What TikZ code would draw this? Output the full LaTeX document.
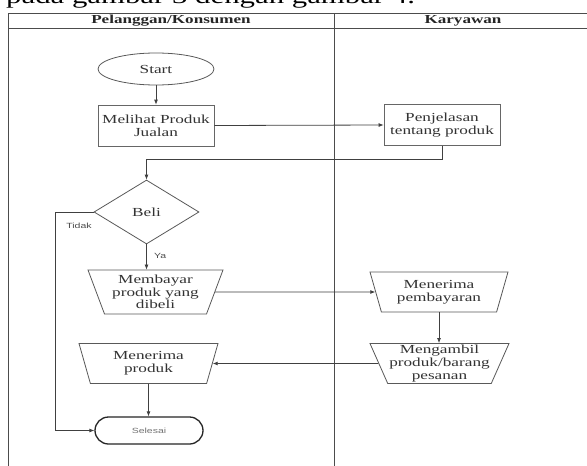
\documentclass[tikz,border=0pt]{standalone}
\usepackage{fontspec}
\setmainfont{Liberation Serif}
\newfontfamily\wideserif[FakeStretch=1.4]{Liberation Serif}
\newfontfamily\widesans[FakeStretch=1.4]{Liberation Sans}
\usetikzlibrary{shapes.geometric,arrows.meta}

\begin{document}
\begin{tikzpicture}[x=1pt,y=-1pt,
  frame/.style={draw=black!70, line width=0.9pt},
  link/.style={draw=black!75, line width=0.8pt},
  arrow/.style={link, -{Latex[length=5pt,width=4pt]}},
  boxtext/.style={font=\wideserif\fontsize{12.3}{12.6}\selectfont, text=black!80, align=center},
  headtext/.style={font=\wideserif\bfseries\fontsize{12.2}{12.5}\selectfont, text=black!85},
  smalltext/.style={font=\widesans\fontsize{7.5}{8}\selectfont, text=black!70},
  procbox/.style={boxtext, rectangle, draw=black!60, line width=0.8pt, fill=white,
    minimum width=116pt, minimum height=41pt, inner sep=0pt},
  manualop/.style={boxtext, trapezium, shape border rotate=180, trapezium stretches body=true,
    trapezium angle=64, draw=black!65, line width=0.8pt, fill=white, inner sep=0pt,
    minimum width=138pt, minimum height=40pt},
  startend/.style={boxtext, ellipse, draw=black!65, line width=0.8pt, fill=white,
    minimum width=116pt, minimum height=32pt, inner sep=0pt},
  endcap/.style={smalltext, rectangle, rounded corners=13.5pt, draw=black!85, line width=1.3pt,
    fill=white, minimum width=108pt, minimum height=27pt, inner sep=0pt, text=black!55},
  decision/.style={boxtext, diamond, aspect=1.64, draw=black!65, line width=0.8pt, fill=white,
    minimum width=105pt, minimum height=64pt, inner sep=0pt}
]
\useasboundingbox (0,0) rectangle (587,466);
\clip (0,0) rectangle (587,466);
\fill[white] (0,0) rectangle (587,466);

% running text of the page, cut by the top edge
\node[anchor=south west, inner sep=0pt, font=\wideserif\fontsize{22}{24}\selectfont, text=black]
  (pagetext) at (6,8) {pada gambar 3 dengan gambar 4.};

% swimlane frame
\draw[frame] (8,13) -- (587,13);
\draw[frame] (8,28) -- (587,28);
\draw[frame] (8,13) -- (8,466);
\draw[frame] (334,13) -- (334,466);
\node[headtext] (lane1) at (171,20.5) {Pelanggan/Konsumen};
\node[headtext] (lane2) at (463,20.5) {Karyawan};

% flow elements
\node[startend] (start) at (156,69) {Start};
\node[procbox] (lihat) at (156,125.5) {Melihat Produk\\Jualan};
\node[procbox] (jelas) at (442,125) {Penjelasan\\tentang produk};
\node[decision] (beli) at (146.5,212) {Beli};
\node[manualop, minimum height=44pt, minimum width=135pt] (bayar) at (155.5,292) {Membayar\\produk yang\\dibeli};
\node[manualop] (terima) at (439,292) {Menerima\\pembayaran};
\node[manualop, minimum width=139pt] (ambil) at (439.5,363.5) {Mengambil\\produk/barang\\pesanan};
\node[manualop, minimum width=139pt] (produk) at (148.5,363.5) {Menerima\\produk};
\node[endcap] (selesai) at (149,430.5) {Selesai};

\coordinate (turn) at (55,212);

% connectors
\draw[arrow] (start) -- (lihat);
\draw[arrow] (lihat.east) -- (jelas.west);
\draw[arrow] (jelas.south) -- ++(0,13) -| (beli.north);
\draw[arrow] (beli.south) -- (beli.south |- bayar.north)
  node[smalltext, pos=0.45, right=4pt] (ya) {Ya};
\draw[arrow] (beli.west) -- (turn) |- (selesai.west);
\node[smalltext] (tidak) at (79,226) {Tidak};
\draw[arrow] (bayar.east) -- (terima.west);
\draw[arrow] (terima.south) -- (terima.south |- ambil.north);
\draw[arrow] (ambil.west) -- (produk.east);
\draw[arrow] (produk.south) -- (produk.south |- selesai.north);
\end{tikzpicture}
\end{document}
